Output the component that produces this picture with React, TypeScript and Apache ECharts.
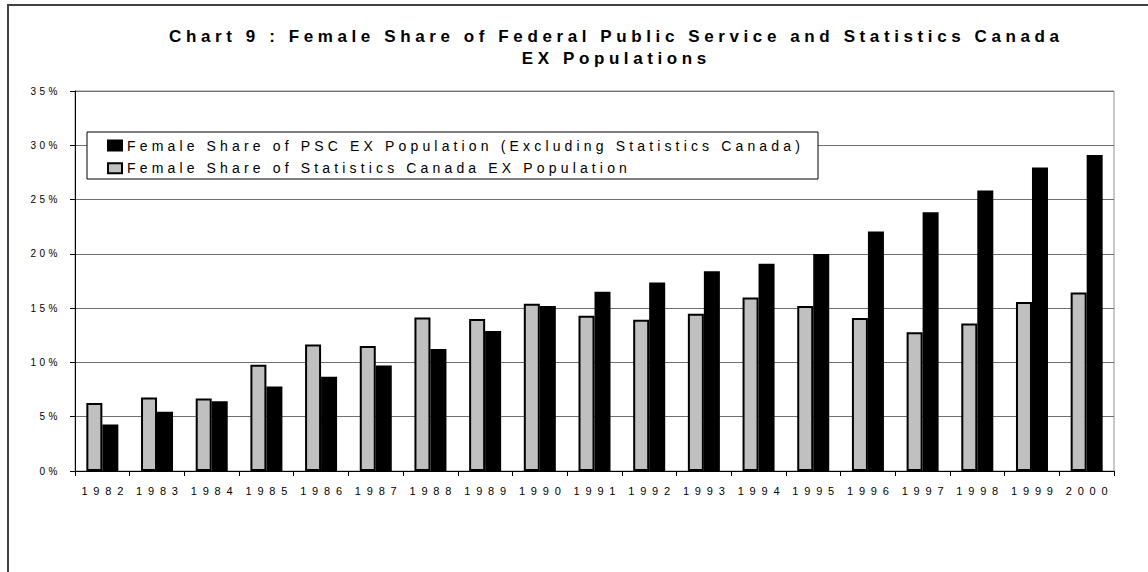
import React, { useEffect, useRef } from "react";
import * as echarts from "echarts";

const FONT = "'Liberation Sans', Arial, sans-serif";

const TITLE_LINE1 = "Chart 9 : Female Share of Federal Public Service and Statistics Canada";
const TITLE_LINE2 = "EX Populations";

const PSC_NAME = "Female Share of PSC EX Population (Excluding Statistics Canada)";
const STATCAN_NAME = "Female Share of Statistics Canada EX Population";

const years = [
  "1982", "1983", "1984", "1985", "1986", "1987", "1988", "1989", "1990", "1991",
  "1992", "1993", "1994", "1995", "1996", "1997", "1998", "1999", "2000",
];

// Female share (%) of Statistics Canada EX population (grey bars)
const statcanShare = [
  6.27, 6.76, 6.67, 9.78, 11.64, 11.51, 14.14, 14.01, 15.4, 14.3,
  13.93, 14.49, 15.97, 15.2, 14.09, 12.79, 13.59, 15.57, 16.43,
];

// Female share (%) of PSC EX population excluding Statistics Canada (black bars)
const pscShare = [
  4.29, 5.46, 6.42, 7.78, 8.67, 9.72, 11.23, 12.9, 15.2, 16.5,
  17.36, 18.4, 19.08, 19.98, 22.07, 23.83, 25.83, 27.96, 29.1,
];

const yMin = 0;
const yMax = 35;
const yStep = 5;

// letter spacing (px) by font size, mimicking the spaced-out original rendering
const SPACING: Record<string, number> = { "17": 4.6, "14": 4.15, "11": 5.8, "10": 3.5 };

function applySpacing(root: HTMLElement | null) {
  if (!root) return;
  root.querySelectorAll("text").forEach((t) => {
    const fs = Math.round(parseFloat(window.getComputedStyle(t).fontSize));
    const ls = SPACING[String(fs)];
    if (ls !== undefined) (t as SVGTextElement).style.letterSpacing = ls + "px";
  });
}

export default function App() {
  const ref = useRef<HTMLDivElement | null>(null);

  useEffect(() => {
    if (!ref.current) return;
    const chart = echarts.init(ref.current, undefined, { renderer: "svg" });
    const option: any = {
      animation: false,
      backgroundColor: "#ffffff",
      grid: {
        left: 75,
        right: 34,
        top: 91,
        bottom: 101,
        show: true,
        borderColor: "#909090",
        borderWidth: 1,
        backgroundColor: "transparent",
      },
      graphic: [
        {
          type: "rect",
          z: 0,
          shape: { x: 8, y: 5, width: 1400, height: 900 },
          style: { fill: "transparent", stroke: "#404040", lineWidth: 2 },
          silent: true,
        },
        {
          type: "text",
          z: 30,
          x: 616.3,
          y: 36,
          style: {
            text: TITLE_LINE1,
            fontSize: 17,
            fontWeight: "bold",
            fontFamily: FONT,
            fill: "#000",
            align: "center",
            verticalAlign: "middle",
          },
        },
        {
          type: "text",
          z: 30,
          x: 616.3,
          y: 58.5,
          style: {
            text: TITLE_LINE2,
            fontSize: 17,
            fontWeight: "bold",
            fontFamily: FONT,
            fill: "#000",
            align: "center",
            verticalAlign: "middle",
          },
        },
        {
          type: "rect",
          z: 15,
          shape: { x: 87, y: 132, width: 731, height: 47 },
          style: { fill: "#ffffff", stroke: "#000000", lineWidth: 1 },
          silent: true,
        },
      ],
      legend: {
        data: [PSC_NAME, STATCAN_NAME],
        orient: "vertical",
        left: 107,
        top: 138.5,
        itemWidth: 14,
        itemHeight: 10,
        itemGap: 8.7,
        icon: "rect",
        selectedMode: false,
        z: 20,
        padding: 0,
        textStyle: { fontSize: 14, fontFamily: FONT, color: "#000", lineHeight: 14 },
      },
      xAxis: {
        type: "category",
        data: years,
        axisLine: { show: true, lineStyle: { color: "#000", width: 1 } },
        axisTick: { show: true, length: 5, interval: 0, lineStyle: { color: "#000" } },
        axisLabel: {
          interval: 0,
          margin: 14,
          fontSize: 11,
          fontFamily: FONT,
          color: "#000",
          padding: [0, 0, 0, 5.8],
        },
        splitLine: { show: false },
      },
      yAxis: {
        type: "value",
        min: yMin,
        max: yMax,
        interval: yStep,
        axisLine: { show: true, lineStyle: { color: "#000", width: 1 } },
        axisTick: { show: true, length: 5, lineStyle: { color: "#000" } },
        splitLine: { show: true, lineStyle: { color: "#707070", width: 1 } },
        axisLabel: {
          formatter: "{value}%",
          fontSize: 10,
          fontFamily: FONT,
          color: "#000",
          margin: 14,
        },
      },
      series: [
        {
          name: STATCAN_NAME,
          type: "bar",
          data: statcanShare,
          barWidth: 16,
          barGap: "0%",
          itemStyle: { color: "#c0c0c0", borderColor: "#000", borderWidth: 2 },
        },
        {
          name: PSC_NAME,
          type: "bar",
          data: pscShare,
          barWidth: 16,
          barGap: "0%",
          itemStyle: { color: "#000", borderColor: "#000", borderWidth: 1.5 },
        },
      ],
    };
    chart.setOption(option);
    const root = ref.current;
    applySpacing(root);
    chart.on("finished", () => applySpacing(root));
    const t1 = setTimeout(() => applySpacing(root), 0);
    const t2 = setTimeout(() => applySpacing(root), 200);
    return () => {
      clearTimeout(t1);
      clearTimeout(t2);
      chart.dispose();
    };
  }, []);

  return (
    <div
      ref={ref}
      style={{
        position: "absolute",
        left: 0,
        top: 0,
        width: 1148,
        height: 572,
        background: "#fff",
      }}
    />
  );
}
